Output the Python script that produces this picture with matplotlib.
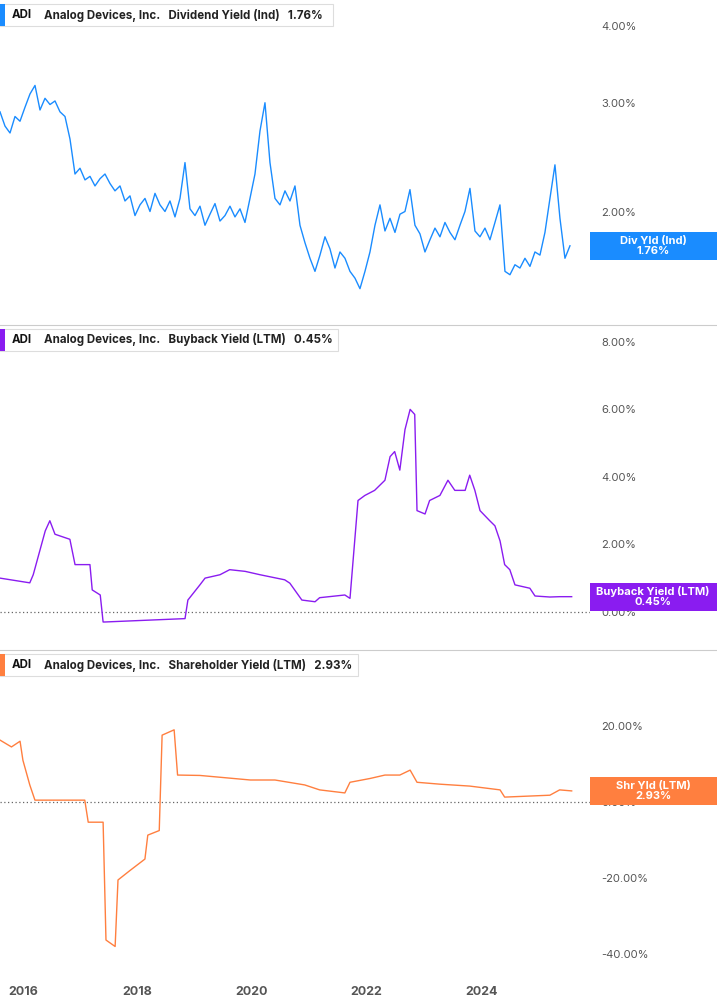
import numpy as np
import matplotlib
matplotlib.use("Agg")
import matplotlib.pyplot as plt
from matplotlib.patches import Rectangle

# ---------------- data ----------------
div_start, div_end = 2015.6, 2025.55
div_yield = [2.90,2.75,2.68,2.85,2.80,2.95,3.10,3.20,2.92,3.05,2.98,3.02,2.90,2.85,2.62,2.30,2.35,2.25,2.28,2.20,
             2.26,2.30,2.22,2.16,2.20,2.08,2.12,1.97,2.05,2.10,2.00,2.14,2.05,2.00,2.08,1.96,2.10,2.40,2.02,1.97,
             2.04,1.90,1.98,2.06,1.93,1.97,2.04,1.96,2.02,1.92,2.10,2.30,2.70,3.00,2.40,2.10,2.05,2.16,2.08,2.20,
             1.90,1.78,1.68,1.60,1.70,1.82,1.74,1.62,1.72,1.68,1.60,1.56,1.50,1.60,1.72,1.90,2.05,1.86,1.95,1.85,
             1.98,2.00,2.17,1.90,1.84,1.72,1.80,1.88,1.82,1.92,1.85,1.80,1.90,2.00,2.18,1.86,1.82,1.88,1.80,1.92,
             2.05,1.60,1.58,1.64,1.62,1.68,1.63,1.72,1.70,1.85,2.10,2.38,1.95,1.68,1.76]

bb_years = [2015.60,2016.12,2016.18,2016.39,2016.47,2016.56,2016.82,2016.91,2017.17,2017.21,2017.35,2017.40,
            2017.43,2018.83,2018.88,2019.09,2019.18,2019.44,2019.61,2019.88,2020.14,2020.57,2020.66,2020.87,
            2021.10,2021.18,2021.62,2021.71,2021.85,2021.97,2022.14,2022.32,2022.41,2022.49,2022.58,2022.67,
            2022.76,2022.84,2022.88,2023.02,2023.10,2023.28,2023.42,2023.54,2023.72,2023.80,2023.89,2023.98,
            2024.15,2024.24,2024.33,2024.41,2024.50,2024.59,2024.85,2024.94,2025.20,2025.37,2025.58]
bb_yield = [1.00,0.86,1.10,2.40,2.70,2.30,2.15,1.40,1.40,0.65,0.50,-0.30,-0.30,-0.20,0.35,0.80,1.00,1.10,1.25,
            1.20,1.10,0.95,0.85,0.35,0.30,0.42,0.50,0.40,3.30,3.45,3.60,3.90,4.60,4.75,4.20,5.40,6.00,5.85,3.00,
            2.90,3.30,3.45,3.90,3.60,3.60,4.05,3.60,3.00,2.70,2.55,2.10,1.40,1.25,0.80,0.70,0.47,0.44,0.45,0.45]

sh_years = [2015.60,2015.80,2015.95,2016.00,2016.12,2016.21,2017.08,2017.14,2017.40,2017.45,2017.61,2017.66,
            2017.87,2018.13,2018.18,2018.38,2018.43,2018.64,2018.70,2019.09,2019.97,2020.40,2020.92,2021.18,
            2021.62,2021.71,2022.06,2022.32,2022.58,2022.76,2022.88,2023.28,2023.80,2024.33,2024.41,2025.20,
            2025.37,2025.58]
sh_yield = [16.3,14.5,16.0,11.0,4.5,0.5,0.5,-5.3,-5.3,-36.3,-38.0,-20.5,-18.0,-15.0,-8.7,-7.5,17.6,19.0,7.1,
            7.0,5.8,5.8,4.5,3.2,2.4,5.2,6.2,7.1,7.1,8.4,5.2,4.7,4.2,3.2,1.3,1.8,3.2,2.93]

year_ticks = [2016, 2018, 2020, 2022, 2024]

# ---------------- figure ----------------
W, H = 717, 1005
fig = plt.figure(figsize=(W/100, H/100), dpi=100)
plt.rcParams["font.family"] = "Inter"

def frac_rect(top, bottom, right=590):
    return [0, 1 - bottom/H, right/W, (bottom - top)/H]

blue, purple, orange = "#1a8cff", "#8a1cf0", "#ff7f3f"
grey_txt = "#555555"

panels = [
    dict(top=0, bottom=325, ylim=(1.31, 4.40), log=True, ticks=[2, 3, 4], color=blue,
         name="Dividend Yield (Ind)", val="1.76%", tag="Div Yld (Ind)", last=1.76, boxw=333),
    dict(top=325, bottom=650, ylim=(-1.13, 8.5), log=False, ticks=[0, 2, 4, 6, 8], color=purple,
         name="Buyback Yield (LTM)", val="0.45%", tag="Buyback Yield (LTM)", last=0.45, boxw=338),
    dict(top=650, bottom=975, ylim=(-45.5, 40), log=False, ticks=[-40, -20, 0, 20], color=orange,
         name="Shareholder Yield (LTM)", val="2.93%", tag="Shr Yld (LTM)", last=2.93, boxw=358),
]

axes = []
for i, p in enumerate(panels):
    ax = fig.add_axes(frac_rect(p["top"], p["bottom"]))
    axes.append(ax)
    if p["log"]:
        ax.set_yscale("log")
        ax.yaxis.set_minor_locator(matplotlib.ticker.NullLocator())
    ax.set_ylim(*p["ylim"])
    ax.set_xlim(2015.6, 2025.9)
    for s in ax.spines.values():
        s.set_visible(False)
    ax.yaxis.tick_right()
    ax.set_yticks(p["ticks"])
    ax.set_yticklabels([f"{t:.2f}%" for t in p["ticks"]], fontsize=8, color=grey_txt)
    ax.tick_params(axis="y", length=0, pad=8)
    ax.set_xticks(year_ticks)
    if i < 2:
        ax.set_xticklabels([])
        ax.tick_params(axis="x", length=0)
    else:
        ax.set_xticklabels([str(y) for y in year_ticks], fontsize=9, color=grey_txt, fontweight="bold")
        ax.tick_params(axis="x", length=0, pad=8)
    if not p["log"]:
        ax.axhline(0, color="#666666", lw=0.9, ls=(0, (1, 2)))

    # title box
    ax.add_patch(Rectangle((0.0, 1 - 26/325), p["boxw"]/590, 22/325,
                           transform=ax.transAxes, facecolor="white", edgecolor="#dddddd",
                           lw=0.8, zorder=5, clip_on=False))
    ax.add_patch(Rectangle((0.0, 1 - 26/325), 5/590, 22/325, transform=ax.transAxes,
                           facecolor=p["color"], edgecolor="none", zorder=6, clip_on=False))
    ax.text(12/590, 1 - 15/325, "ADI", transform=ax.transAxes, fontsize=8.3,
            fontweight="bold", va="center", zorder=7, color="#111111")
    ax.text(44/590, 1 - 15/325, f"Analog Devices, Inc.   {p['name']}   {p['val']}",
            transform=ax.transAxes, fontsize=8.3, fontweight="bold", va="center", zorder=7, color="#222222")

    # right tag (figure-level box from plot edge to figure edge)
    ypix = H * (1 - p["bottom"]/H) + ax.transData.transform((0, p["last"]))[1] * 0  # placeholder
    fig.canvas.draw() if i == 0 else None

fig.canvas.draw()
for ax, p in zip(axes, panels):
    _, ydisp = ax.transData.transform((2020, p["last"]))
    yf = ydisp / fig.bbox.height
    hh = 28 / H
    fig.add_artist(Rectangle((590/W, yf - hh/2), 127/W, hh, transform=fig.transFigure,
                             facecolor=p["color"], edgecolor="none", zorder=10))
    fig.text(653/W, yf, f"{p['tag']}\n{p['val']}", ha="center", va="center", fontsize=8,
             fontweight="bold", color="white", linespacing=1.05, zorder=11)

# series
d_years = np.linspace(div_start, div_end, len(div_yield))
axes[0].plot(d_years, div_yield, color=blue, lw=1.0)
axes[1].plot(bb_years, bb_yield, color=purple, lw=1.0)
axes[2].plot(sh_years, sh_yield, color=orange, lw=1.0)

# separators
for yy in (325, 650):
    fig.add_artist(plt.Line2D([0, 1], [1 - yy/H, 1 - yy/H], color="#cccccc", lw=0.8))

fig.savefig("out.png", dpi=100)
